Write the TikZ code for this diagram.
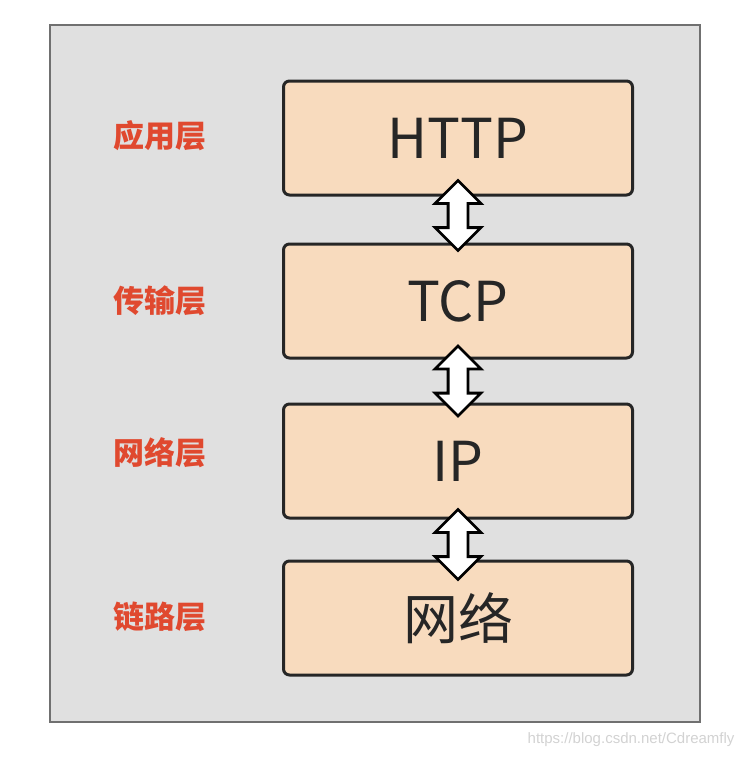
\documentclass[tikz,border=0pt]{standalone}
\usepackage{fontspec}
\setmainfont{Noto Sans CJK SC}
\newfontfamily\markfont{Liberation Sans}
\usepackage{xcolor}
\usetikzlibrary{shapes.arrows,positioning,calc}
\definecolor{framegray}{HTML}{E0E0E0}
\definecolor{frameline}{HTML}{707070}
\definecolor{layerfill}{HTML}{F8DBBE}
\definecolor{layerline}{HTML}{262626}
\definecolor{layerred}{HTML}{E0492F}

\begin{document}
\begin{tikzpicture}[
        %Environment config
        x=1pt,y=-1pt,
        %Environment styles
        LayerBox/.style={
            draw=layerline,
            fill=layerfill,
            line width=3pt,
            rounded corners=6pt,
            minimum width=349pt,
            minimum height=114pt,
            text=layerline,
            font=\fontsize{55}{60}\selectfont
        },
        LayerName/.style={
            text=layerred,
            font=\fontsize{31}{34}\selectfont\bfseries
        },
        UpDown/.style={
            double arrow,
            draw=black,
            fill=white,
            line width=2.8pt,
            rotate=90,
            inner sep=8.5pt,
            minimum height=70pt,
            double arrow head extend=13pt
        }
    ]
    \useasboundingbox (0,0) rectangle (746,758);
    \draw[fill=framegray,draw=frameline,line width=2.5pt] (50,25) rectangle (700,722);

    \path
        (458,138) node[LayerBox](HTTP){HTTP}
        node[LayerBox,below=46pt of HTTP](TCP){TCP}
        node[LayerBox,below=43pt of TCP](IP){IP}
        node[LayerBox,below=40pt of IP](NET){网络};

    \path
        (160,136) node[LayerName](L1){应用层}
        (160,301) node[LayerName](L2){传输层}
        (160,453) node[LayerName](L3){网络层}
        (160,617) node[LayerName](L4){链路层};

    \node[UpDown](A1) at ($(HTTP.south)!0.5!(TCP.north)+(0,-4)$){};
    \node[UpDown](A2) at ($(TCP.south)!0.5!(IP.north)$){};
    \node[UpDown](A3) at ($(IP.south)!0.5!(NET.north)+(0,5)$){};

    \node[text=gray!35,font=\markfont\fontsize{15}{18}\selectfont,anchor=east](WM) at (738,740){https://blog.csdn.net/Cdreamfly};
\end{tikzpicture}
\end{document}
